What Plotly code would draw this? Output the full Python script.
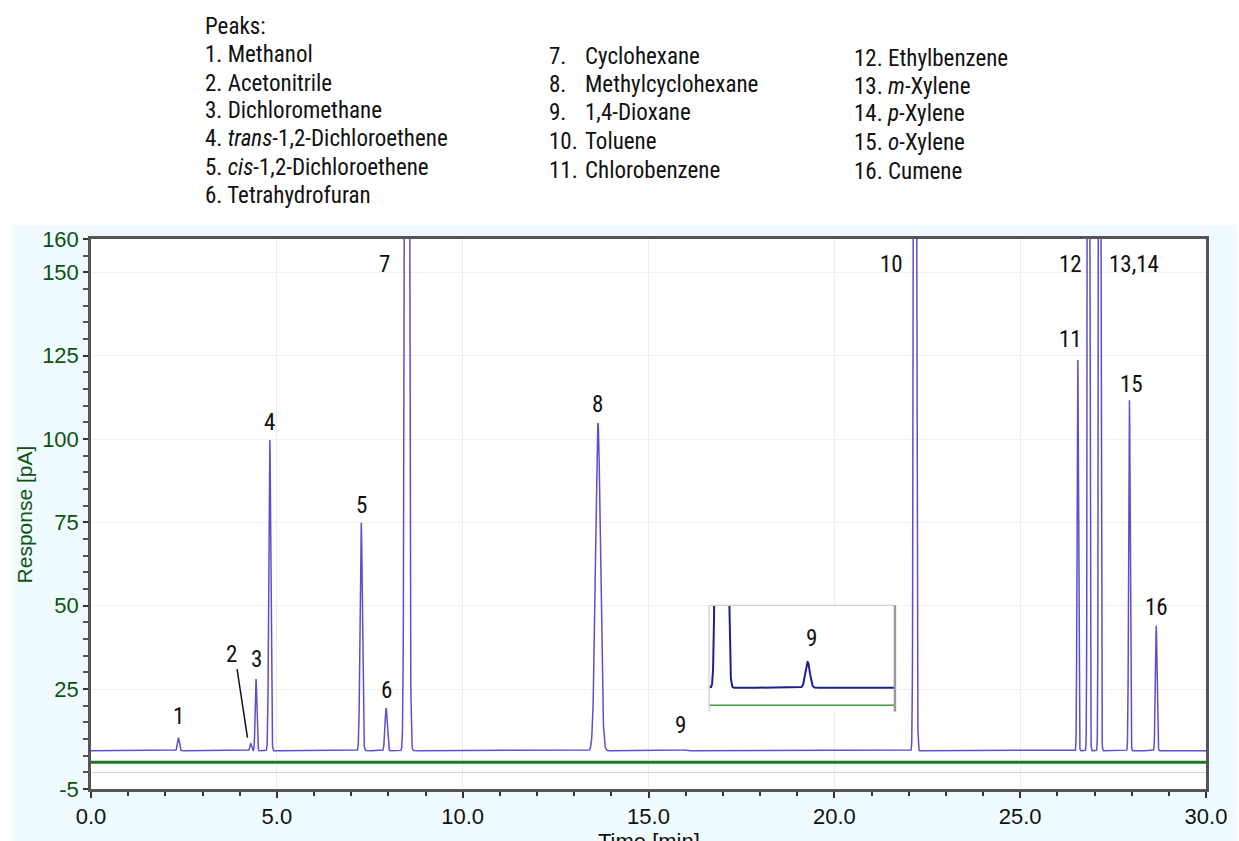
import numpy as np
import plotly.graph_objects as go

# ---- peak table (FID A) ----
peak_labels = ["1", "2", "3", "4", "5", "6", "7", "8", "9", "10", "11", "12", "13,14", "15", "16"]
retention_min = [2.35, 4.30, 4.44, 4.81, 7.27, 7.94, 8.50, 13.64, 15.95, 22.17, 26.55, 26.84, 27.14, 27.94, 28.66]
apex_pa = [10.4, 8.6, 28.0, 100.0, 75.0, 19.3, 950.0, 104.8, 6.75, 800.0, 124.4, 800.0, 800.0, 111.6, 44.0]
sigma_min = [0.025, 0.022, 0.022, 0.026, 0.03, 0.03, 0.038, 0.066, 0.06, 0.026, 0.018, 0.02, 0.02, 0.02, 0.022]

baseline_a_pa = 6.5      # FID A baseline
level_b_pa = 3.0         # FID B trace
inset_level_b = 6.33     # FID B trace as offset in the expanded view

# label anchor positions (time, response)
label_x = [2.35, 3.77, 4.44, 4.79, 7.27, 7.94, 7.91, 13.64, 15.86, 21.55, 26.36, 26.36, 28.05, 28.0, 28.66]
label_y = [16.7, 35.4, 33.9, 105.0, 80.0, 24.7, 152.5, 110.4, 14.0, 152.5, 129.8, 152.5, 152.5, 116.4, 49.4]

# peak list text
col1_text = ["Peaks:", "1. Methanol", "2. Acetonitrile", "3. Dichloromethane",
             "4. <i>trans</i>-1,2-Dichloroethene", "5. <i>cis</i>-1,2-Dichloroethene",
             "6. Tetrahydrofuran"]
col2_num = ["7.", "8.", "9.", "10.", "11."]
col2_name = ["Cyclohexane", "Methylcyclohexane", "1,4-Dioxane", "Toluene", "Chlorobenzene"]
col3_text = ["12. Ethylbenzene", "13. <i>m</i>-Xylene", "14. <i>p</i>-Xylene",
             "15. <i>o</i>-Xylene", "16. Cumene"]

x_ticks = [0, 5, 10, 15, 20, 25, 30]
x_ticktext = ["0.0", "5.0", "10.0", "15.0", "20.0", "25.0", "30.0"]
y_ticks = [-5, 25, 50, 75, 100, 125, 150, 160]
y_ticktext = ["-5", "25", "50", "75", "100", "125", "150", "160"]

# ---- build the FID A chromatogram from the peak table ----
time_min = np.linspace(0, 30, 7501)
signal_a = np.full_like(time_min, baseline_a_pa)
for tr, ap, s in zip(retention_min, apex_pa, sigma_min):
    signal_a += (ap - baseline_a_pa) * np.exp(-0.5 * ((time_min - tr) / s) ** 2)
signal_b = np.full_like(time_min, level_b_pa)

inset_range = [13.30, 18.30]
mask = (time_min >= inset_range[0] - 0.1) & (time_min <= inset_range[1] + 0.1)

# figure geometry (pixels) for paper placement of text
W, H = 1239, 841
L, R, T, B = 91, 26, 239, 48
PW, PH = W - L - R, H - T - B


def px(xp):
    return (xp - L) / PW


def py(yp):
    return (H - B - yp) / PH


FONT = "Liberation Sans, Arial, sans-serif"
NARROW = "Roboto Condensed, DejaVu Sans Condensed, sans-serif"
NSIZE = 23
GREEN_TXT = "#0c5410"
INK = "#111111"

fig = go.Figure()
fig.add_trace(go.Scatter(x=time_min, y=signal_b, mode="lines",
                         line=dict(color="#1c7a1c", width=3), hoverinfo="skip"))
fig.add_trace(go.Scatter(x=time_min, y=signal_a, mode="lines",
                         line=dict(color="#5a4fd0", width=1.5), hoverinfo="skip"))

# expanded view around peak 9
fig.add_trace(go.Scatter(x=time_min[mask], y=np.full(mask.sum(), inset_level_b), mode="lines",
                         line=dict(color="#3c9e3c", width=1.5), xaxis="x2", yaxis="y2",
                         hoverinfo="skip"))
fig.add_trace(go.Scatter(x=time_min[mask], y=signal_a[mask], mode="lines",
                         line=dict(color="#1e1e8c", width=2), xaxis="x2", yaxis="y2",
                         hoverinfo="skip"))

annotations = []
for lab, xv, yv in zip(peak_labels, label_x, label_y):
    annotations.append(dict(x=xv, y=yv, xref="x", yref="y", text=lab, showarrow=False,
                            font=dict(family=NARROW, size=NSIZE, color=INK)))
annotations.append(dict(x=16.06, y=6.98, xref="x2", yref="y2", text="9", showarrow=False,
                        font=dict(family=NARROW, size=NSIZE, color=INK)))

col1_y = [25, 53, 82, 110, 138, 167, 195]
for t, yy in zip(col1_text, col1_y):
    annotations.append(dict(x=px(204), y=py(yy), xref="paper", yref="paper", text=t,
                            showarrow=False, xanchor="left", yanchor="middle",
                            font=dict(family=NARROW, size=NSIZE, color=INK)))
col2_y = [55, 83, 112, 141, 170]
for n, t, yy in zip(col2_num, col2_name, col2_y):
    annotations.append(dict(x=px(550), y=py(yy), xref="paper", yref="paper", text=n,
                            showarrow=False, xanchor="left", yanchor="middle",
                            font=dict(family=NARROW, size=NSIZE, color=INK)))
    annotations.append(dict(x=px(586), y=py(yy), xref="paper", yref="paper", text=t,
                            showarrow=False, xanchor="left", yanchor="middle",
                            font=dict(family=NARROW, size=NSIZE, color=INK)))
col3_y = [57, 85, 113, 142, 171]
for t, yy in zip(col3_text, col3_y):
    annotations.append(dict(x=px(857), y=py(yy), xref="paper", yref="paper", text=t,
                            showarrow=False, xanchor="left", yanchor="middle",
                            font=dict(family=NARROW, size=NSIZE, color=INK)))

# axis titles (the time title sits at the lower edge of the page)
annotations.append(dict(x=px(24), y=0.5, xref="paper", yref="paper", text="Response [pA]",
                        textangle=-90, showarrow=False, xanchor="center", yanchor="middle",
                        font=dict(family=FONT, size=21, color=GREEN_TXT)))
annotations.append(dict(x=0.5, y=py(831), xref="paper", yref="paper", text="Time [min]",
                        showarrow=False, xanchor="center", yanchor="top",
                        font=dict(family=FONT, size=22, color=INK)))

shapes = [
    # light tinted panel behind the chart
    dict(type="rect", xref="paper", yref="paper", x0=px(12), x1=px(W + 5), y0=py(H + 5), y1=py(225),
         fillcolor="#effbfe", line=dict(width=0), layer="below"),
    dict(type="rect", xref="paper", yref="paper", x0=0, x1=1, y0=0, y1=1,
         fillcolor="white", line=dict(width=0), layer="below"),
    # leader line for peak 2
    dict(type="line", xref="x", yref="y", x0=3.93, y0=31.0, x1=4.21, y1=10.4,
         line=dict(color=INK, width=1.5)),
    # expanded-view frame
    dict(type="line", xref="x2 domain", yref="y2 domain", x0=0, x1=0, y0=0, y1=1,
         line=dict(color="#cfcfcf", width=1.2)),
    dict(type="line", xref="x2 domain", yref="y2 domain", x0=0, x1=1, y0=1, y1=1,
         line=dict(color="#cfcfcf", width=1.2)),
    dict(type="line", xref="x2 domain", yref="y2 domain", x0=1, x1=1, y0=0, y1=1,
         line=dict(color="#9a9a9a", width=2.5)),
]

fig.update_layout(
    width=W, height=H,
    margin=dict(l=L, r=R, t=T, b=B),
    paper_bgcolor="white", plot_bgcolor="white",
    showlegend=False,
    annotations=annotations,
    shapes=shapes,
    xaxis=dict(range=[0, 30], tickmode="array", tickvals=x_ticks, ticktext=x_ticktext,
               ticks="outside", ticklen=6, tickwidth=1.5, tickcolor="#333333",
               tickfont=dict(family=FONT, size=22, color=INK),
               minor=dict(tickmode="linear", tick0=0, dtick=1, ticks="outside", ticklen=4,
                          tickwidth=1.5, tickcolor="#333333", showgrid=False),
               showline=True, linecolor="#555555", linewidth=2.5, mirror=True,
               showgrid=True, gridcolor="#ececec", gridwidth=1, zeroline=False),
    yaxis=dict(range=[-5, 160], tickmode="array", tickvals=y_ticks, ticktext=y_ticktext,
               ticks="outside", ticklen=5, tickwidth=1.5, tickcolor="#333333",
               tickfont=dict(family=FONT, size=22, color=GREEN_TXT),
               minor=dict(tickmode="linear", tick0=0, dtick=5, ticks="outside", ticklen=5,
                          tickwidth=1.5, tickcolor="#555555", showgrid=False),
               showline=True, linecolor="#555555", linewidth=2.5, mirror=True,
               showgrid=True, gridcolor="#f0f0f0", gridwidth=1,
               zeroline=True, zerolinecolor="#d6d6d6", zerolinewidth=1.2),
    xaxis2=dict(domain=[px(713), px(900)], range=inset_range, anchor="y2", visible=False),
    yaxis2=dict(domain=[py(715), py(608)], range=[6.269, 7.298], anchor="x2", visible=False),
)

fig.write_html("out.html")
